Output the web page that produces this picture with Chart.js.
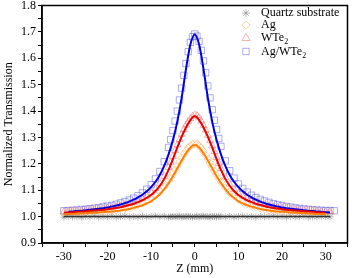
<!DOCTYPE html>
<html>
<head>
<meta charset="utf-8">
<script src="https://cdn.jsdelivr.net/npm/chart.js@4.4.0/dist/chart.umd.min.js"></script>
<style>
  html, body { margin: 0; padding: 0; background: #fff; }
</style>
</head>
<body>
<canvas id="zscanChart" width="353" height="278"></canvas>
<script>
// Z positions (mm) of the measured points
var zMarks = [-30,-29,-28,-27,-26,-25,-24,-23,-22,-21,-20,-19,-18,-17,-16,-15,-14,-13,-12,-11,-10,-9,-8,-7,
    -6,-5.5,-5,-4.5,-4,-3.5,-3,-2.5,-2,-1.5,-1,-0.5,0,0.5,1,1.5,2,2.5,3,3.5,4,4.5,5,5.5,6,
    7,8,9,10,11,12,13,14,15,16,17,18,19,20,21,22,23,24,25,26,27,28,29,30,31];
var zMarksBlue = [-30,-29,-28,-27,-26,-25,-24,-23,-22,-21,-20,-19,-18,-17,-16,-15,-14,-13,-12,-11,-10,-9,-8,-7,
    -6,-5.5,-5,-4.5,-4,-3.5,-3,-2.5,-2,-1.5,-1,-0.5,0,0.5,1,1.5,2,2.5,3,3.5,4,4.5,5,5.5,6,
    7,8,9,10,11,12,13,14,15,16,17,18,19,20,21,22,23,24,25,26,27,28,29,30,31,32];

// measured normalized transmission
var quartzMarks = [0.998,1.001,0.999,1.000,0.997,1.001,0.999,1.002,0.998,1.000,0.999,1.001,0.998,1.000,1.002,0.999,1.000,0.998,1.001,0.999,1.000,1.002,0.999,1.001,
    0.998,1.000,1.001,0.999,1.000,1.002,0.998,1.000,0.999,1.001,1.000,0.998,1.000,1.001,0.999,1.000,1.002,0.999,1.000,0.998,1.001,1.000,0.999,1.001,1.000,
    0.999,1.001,0.998,1.000,1.002,0.999,1.000,0.998,1.001,0.999,1.000,1.002,0.999,1.000,0.998,1.001,0.999,1.000,1.001,0.998,1.000,0.999,1.001,1.000,0.999];
var agMarks = [1.012,1.013,1.013,1.014,1.015,1.016,1.017,1.018,1.019,1.021,1.022,1.024,1.026,1.029,1.032,1.035,1.040,1.045,1.051,1.059,1.068,1.080,1.095,1.113,
    1.136,1.149,1.163,1.177,1.192,1.207,1.222,1.236,1.249,1.260,1.268,1.274,1.277,1.275,1.269,1.259,1.247,1.233,1.218,1.203,1.188,1.173,1.158,1.144,1.131,
    1.109,1.091,1.077,1.065,1.056,1.048,1.042,1.037,1.033,1.029,1.026,1.024,1.022,1.020,1.019,1.018,1.017,1.016,1.015,1.014,1.013,1.013,1.012,1.012,1.011];
var wte2Marks = [1.018,1.019,1.020,1.021,1.022,1.024,1.025,1.027,1.029,1.031,1.033,1.035,1.038,1.041,1.045,1.049,1.054,1.061,1.069,1.079,1.091,1.106,1.126,1.152,
    1.186,1.206,1.228,1.250,1.272,1.292,1.312,1.330,1.347,1.360,1.372,1.380,1.386,1.383,1.375,1.362,1.346,1.328,1.308,1.288,1.268,1.246,1.224,1.202,1.182,
    1.149,1.123,1.103,1.088,1.077,1.068,1.060,1.054,1.049,1.045,1.041,1.038,1.035,1.033,1.031,1.029,1.027,1.026,1.024,1.023,1.022,1.021,1.020,1.019,1.019];
var agWte2Marks = [1.022,1.023,1.024,1.025,1.027,1.028,1.030,1.032,1.034,1.037,1.040,1.043,1.047,1.052,1.057,1.063,1.070,1.079,1.090,1.104,1.121,1.143,1.171,1.208,
    1.262,1.292,1.326,1.362,1.400,1.442,1.487,1.535,1.580,1.625,1.660,1.682,1.692,1.684,1.664,1.630,1.590,1.545,1.495,1.450,1.405,1.365,1.330,1.296,1.266,
    1.211,1.174,1.146,1.124,1.107,1.093,1.081,1.072,1.065,1.059,1.054,1.049,1.045,1.041,1.038,1.036,1.033,1.031,1.029,1.028,1.026,1.025,1.024,1.023,1.023,1.022];

// fitted curves
var zFit = [-30,-29,-28,-27,-26,-25,-24,-23,-22,-21,-20,-19,-18,-17,-16,-15,-14,-13,-12,-11,-10,-9,-8,-7,-6,-5,-4,-3,-2,-1,
    0,1,2,3,4,5,6,7,8,9,10,11,12,13,14,15,16,17,18,19,20,21,22,23,24,25,26,27,28,29,30];
var zFitBlue = [-29,-28,-27,-26,-25,-24,-23,-22,-21,-20,-19,-18,-17,-16,-15,-14,-13,-12,-11,-10,-9,-8,-7,-6,-5,-4,-3,-2,-1,
    0,1,2,3,4,5,6,7,8,9,10,11,12,13,14,15,16,17,18,19,20,21,22,23,24,25,26,27,28,29,30,31];
var zFitQuartz = [-30, 31];
var quartzFit = [1.000, 1.000];
var agFit = [1.009,1.010,1.010,1.011,1.012,1.013,1.014,1.015,1.016,1.017,1.018,1.019,1.021,1.023,1.026,1.029,1.033,1.038,1.043,1.050,1.058,1.071,1.085,1.104,1.127,1.153,1.183,1.213,1.240,1.262,
    1.272,1.262,1.240,1.213,1.183,1.153,1.127,1.104,1.085,1.071,1.058,1.050,1.043,1.038,1.033,1.029,1.026,1.023,1.021,1.019,1.018,1.017,1.016,1.015,1.014,1.013,1.012,1.011,1.010,1.010,1.009];
var wte2Fit = [1.015,1.016,1.017,1.018,1.019,1.020,1.022,1.023,1.025,1.026,1.028,1.031,1.033,1.036,1.040,1.044,1.049,1.055,1.062,1.071,1.082,1.097,1.117,1.143,1.177,1.218,1.262,1.303,1.338,1.366,
    1.381,1.366,1.338,1.303,1.262,1.218,1.177,1.143,1.117,1.097,1.082,1.071,1.062,1.055,1.049,1.044,1.040,1.036,1.033,1.031,1.028,1.026,1.025,1.023,1.022,1.020,1.019,1.018,1.017,1.016,1.015];
var agWte2Fit = [1.018,1.019,1.021,1.022,1.024,1.026,1.028,1.030,1.032,1.035,1.038,1.042,1.046,1.051,1.057,1.064,1.073,1.083,1.096,1.112,1.132,1.158,1.192,1.236,1.290,1.360,1.450,1.560,1.652,
    1.690,1.652,1.560,1.450,1.360,1.290,1.236,1.192,1.158,1.132,1.112,1.096,1.083,1.073,1.064,1.057,1.051,1.046,1.042,1.038,1.035,1.032,1.030,1.028,1.026,1.024,1.022,1.021,1.019,1.018,1.017,1.016];

var serif = '"Liberation Serif", "Times New Roman", serif';
var quartzColor = 'rgba(120, 120, 120, 0.5)';
var agColor = 'rgba(255, 175, 100, 0.55)';
var wte2Color = 'rgba(235, 90, 90, 0.45)';
var agWte2Color = 'rgba(70, 70, 215, 0.45)';

function toPoints(xs, ys) {
    return xs.map(function (x, i) { return { x: x, y: ys[i] }; });
}

function markSet(label, xs, ys, style, color, radius) {
    return {
        label: label,
        data: toPoints(xs, ys),
        showLine: false,
        pointStyle: style,
        pointRadius: radius,
        pointBorderColor: color,
        pointBackgroundColor: 'rgba(0,0,0,0)',
        pointBorderWidth: 1,
        order: 1
    };
}

function fitSet(xs, ys, color, width) {
    return {
        label: 'fit',
        data: toPoints(xs, ys),
        borderColor: color,
        borderWidth: width,
        pointRadius: 0,
        cubicInterpolationMode: 'monotone',
        fill: false,
        order: 0
    };
}

// legend drawn inside the plot, the way the paper figure has it
var legendRows = [
    { text: 'Quartz substrate', sub: '', style: 'star', color: quartzColor },
    { text: 'Ag', sub: '', style: 'diamond', color: agColor },
    { text: 'WTe', sub: '2', style: 'triangle', color: wte2Color },
    { text: 'Ag/WTe', sub: '2', style: 'square', color: agWte2Color }
];

function drawSymbol(ctx, style, x, y, r) {
    ctx.beginPath();
    if (style === 'star') {
        for (var k = 0; k < 4; k++) {
            var a = k * Math.PI / 4;
            ctx.moveTo(x - r * Math.cos(a), y - r * Math.sin(a));
            ctx.lineTo(x + r * Math.cos(a), y + r * Math.sin(a));
        }
    } else if (style === 'diamond') {
        ctx.moveTo(x, y - r); ctx.lineTo(x + r, y); ctx.lineTo(x, y + r); ctx.lineTo(x - r, y); ctx.closePath();
    } else if (style === 'triangle') {
        ctx.moveTo(x, y - r); ctx.lineTo(x + r, y + r * 0.75); ctx.lineTo(x - r, y + r * 0.75); ctx.closePath();
    } else {
        ctx.rect(x - r * 0.8, y - r * 0.8, r * 1.6, r * 1.6);
    }
    ctx.stroke();
}

var insideLegend = {
    id: 'insideLegend',
    afterDraw: function (chart) {
        var ctx = chart.ctx;
        var area = chart.chartArea;
        var symX = area.left + 204;
        var textX = area.left + 219;
        var rowY = [area.top + 7.5, area.top + 19.5, area.top + 32, area.top + 46];
        ctx.save();
        ctx.lineWidth = 1;
        ctx.textBaseline = 'middle';
        legendRows.forEach(function (row, i) {
            ctx.strokeStyle = row.color;
            drawSymbol(ctx, row.style, symX, rowY[i], 4);
            ctx.fillStyle = '#000';
            ctx.font = '12px ' + serif;
            ctx.fillText(row.text, textX, rowY[i]);
            if (row.sub) {
                var w = ctx.measureText(row.text).width;
                ctx.font = '8px ' + serif;
                ctx.fillText(row.sub, textX + w, rowY[i] + 4);
            }
        });
        ctx.restore();
    }
};

var frameBox = {
    id: 'frameBox',
    afterDatasetsDraw: function (chart) {
        var ctx = chart.ctx;
        var a = chart.chartArea;
        ctx.save();
        ctx.strokeStyle = '#000';
        ctx.lineWidth = 1.5;
        ctx.strokeRect(a.left, a.top, a.right - a.left, a.bottom - a.top);
        ctx.restore();
    }
};

var ctx = document.getElementById('zscanChart').getContext('2d');
var zscanChart = new Chart(ctx, {
    type: 'line',
    data: {
        datasets: [
            fitSet(zFitQuartz, quartzFit, '#333333', 1.5),
            fitSet(zFit, agFit, '#ff7f00', 2),
            fitSet(zFit, wte2Fit, '#e80000', 2),
            fitSet(zFitBlue, agWte2Fit, '#0000e6', 2),
            markSet('Quartz substrate', zMarks, quartzMarks, 'star', quartzColor, 3.5),
            markSet('Ag', zMarks, agMarks, 'rectRot', agColor, 4),
            markSet('WTe2', zMarks, wte2Marks, 'triangle', wte2Color, 4),
            markSet('Ag/WTe2', zMarksBlue, agWte2Marks, 'rect', agWte2Color, 4.5)
        ]
    },
    options: {
        responsive: false,
        animation: false,
        layout: { padding: { top: 5, right: 2, left: 0, bottom: 0 } },
        plugins: {
            legend: { display: false },
            tooltip: { enabled: false }
        },
        scales: {
            x: {
                type: 'linear',
                min: -35,
                max: 35,
                afterFit: function (scale) {
                    scale.height = 35;
                    scale.paddingLeft = 0;
                    scale.paddingRight = 0;
                },
                border: { color: '#000', width: 1.5 },
                grid: { drawOnChartArea: false, tickLength: 4, tickColor: '#000' },
                ticks: {
                    stepSize: 5,
                    autoSkip: false,
                    maxRotation: 0,
                    padding: 3,
                    color: '#000',
                    font: { family: serif, size: 12 },
                    callback: function (v) { return (v % 10 === 0 && Math.abs(v) <= 30) ? String(v) : ''; }
                },
                title: {
                    display: true,
                    text: 'Z (mm)',
                    color: '#000',
                    font: { family: serif, size: 12 },
                    padding: { top: 0, bottom: 2 }
                }
            },
            y: {
                min: 0.9,
                max: 1.8,
                afterFit: function (scale) {
                    scale.width = 42;
                    scale.paddingTop = 0;
                    scale.paddingBottom = 0;
                },
                border: { color: '#000', width: 1.5 },
                grid: { drawOnChartArea: false, tickLength: 4, tickColor: '#000' },
                ticks: {
                    stepSize: 0.05,
                    autoSkip: false,
                    padding: 2,
                    color: '#000',
                    font: { family: serif, size: 12 },
                    callback: function (v) { return Math.round(v * 100) % 10 === 0 ? v.toFixed(1) : ''; }
                },
                title: {
                    display: true,
                    text: 'Normalized Transmission',
                    color: '#000',
                    font: { family: serif, size: 12 },
                    padding: { top: 2, bottom: 0 }
                }
            }
        }
    },
    plugins: [frameBox, insideLegend]
});
</script>
</body>
</html>
